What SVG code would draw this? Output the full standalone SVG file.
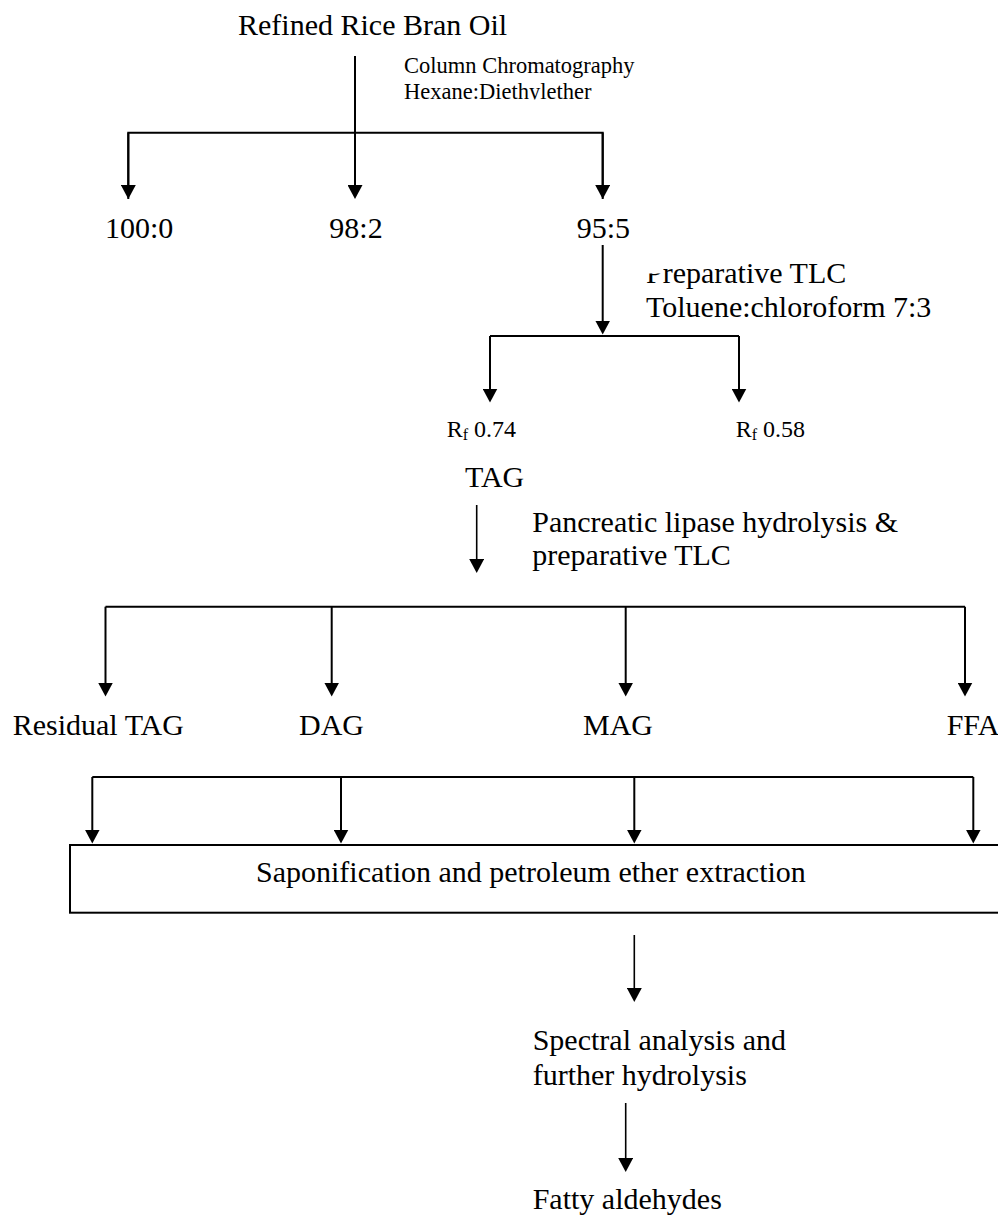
<svg xmlns="http://www.w3.org/2000/svg" width="998" height="1215" viewBox="0 0 998 1215">
<style>
text{font-family:"Liberation Serif","Times New Roman",serif;fill:#000;font-size:30px}
.sm{font-size:22.5px}
.rf{font-size:24px}
.ln{stroke:#000;stroke-width:2;fill:none}
.lt{stroke:#000;stroke-width:1.6;fill:none}
.ar{marker-end:url(#ah)}
</style>
<defs>
<marker id="ah" markerUnits="userSpaceOnUse" markerWidth="14" markerHeight="15" refX="10" refY="7.5" orient="auto" viewBox="0 0 14 15">
<path d="M0,0 L14,7.5 L0,15 z" fill="#000"/>
</marker>
<clipPath id="clipHex"><rect x="0" y="0" width="998" height="99.5"/></clipPath>
<clipPath id="clipPrep"><path clip-rule="evenodd" d="M0,0 H998 V1215 H0 Z M644,255 H662.5 V273.5 H644 Z"/></clipPath>
</defs>
<rect width="998" height="1215" fill="#fff"/>
<g id="connectors">
<line class="ln ar" x1="355" y1="56" x2="355" y2="195"/>
<polyline class="ln" points="128.3,199 128.3,132.7 602.7,132.7 602.7,199"/>
<line class="ln ar" x1="128.3" y1="132.7" x2="128.3" y2="195"/>
<line class="ln ar" x1="602.7" y1="132.7" x2="602.7" y2="195"/>
<line class="ln ar" x1="602.7" y1="245" x2="602.7" y2="330.5"/>
<polyline class="ln" points="490,336 739,336"/>
<line class="ln ar" x1="490" y1="336" x2="490" y2="398.5"/>
<line class="ln ar" x1="739" y1="336" x2="739" y2="398.5"/>
<line class="lt ar" x1="476.7" y1="505" x2="476.7" y2="569"/>
<polyline class="ln" points="105.5,606.7 965,606.7"/>
<line class="ln ar" x1="105.5" y1="606.7" x2="105.5" y2="692.5"/>
<line class="ln ar" x1="331.7" y1="606.7" x2="331.7" y2="692.5"/>
<line class="ln ar" x1="625.7" y1="606.7" x2="625.7" y2="692.5"/>
<line class="ln ar" x1="965" y1="606.7" x2="965" y2="692.5"/>
<polyline class="ln" points="92.3,777 973.3,777"/>
<line class="ln ar" x1="92.3" y1="777" x2="92.3" y2="839.5"/>
<line class="ln ar" x1="341" y1="777" x2="341" y2="839.5"/>
<line class="ln ar" x1="634.3" y1="777" x2="634.3" y2="839.5"/>
<line class="ln ar" x1="973.3" y1="777" x2="973.3" y2="839.5"/>
<line class="lt ar" x1="634.3" y1="935" x2="634.3" y2="998"/>
<line class="lt ar" x1="625.7" y1="1103" x2="625.7" y2="1168"/>
</g>
<g id="n-rbo"><text x="238" y="35">Refined Rice Bran Oil</text></g>
<g id="l-column">
<text class="sm" x="404" y="73.3">Column Chromatography</text>
<text class="sm" x="404" y="98.8" clip-path="url(#clipHex)">Hexane:Diethylether</text>
</g>
<g id="n-100"><text x="105" y="238">100:0</text></g>
<g id="n-98"><text x="329.3" y="238">98:2</text></g>
<g id="n-95"><text x="576.7" y="238">95:5</text></g>
<g id="l-ptlc">
<text x="646" y="283.3" clip-path="url(#clipPrep)">Preparative TLC</text>
<text x="646" y="316.7">Toluene:chloroform 7:3</text>
</g>
<g id="n-rf074"><text class="rf" x="446.7" y="436.7">R<tspan font-size="16" dy="3">f</tspan><tspan dy="-3"> 0.74</tspan></text></g>
<g id="n-rf058"><text class="rf" x="735.7" y="436.7">R<tspan font-size="16" dy="3">f</tspan><tspan dy="-3"> 0.58</tspan></text></g>
<g id="n-tag"><text x="465" y="486.7">TAG</text></g>
<g id="l-lipase">
<text x="532.3" y="531.7">Pancreatic lipase hydrolysis &amp;</text>
<text x="532.3" y="565">preparative TLC</text>
</g>
<g id="n-rtag"><text x="12.7" y="735">Residual TAG</text></g>
<g id="n-dag"><text x="299" y="735">DAG</text></g>
<g id="n-mag"><text x="583" y="735">MAG</text></g>
<g id="n-ffa"><text x="946.7" y="735">FFA</text></g>
<g id="n-sapon">
<rect class="ln" x="70" y="845" width="940" height="67.7"/>
<text x="256" y="882">Saponification and petroleum ether extraction</text>
</g>
<g id="n-spectral">
<text x="532.7" y="1050">Spectral analysis and</text>
<text x="532.7" y="1085">further hydrolysis</text>
</g>
<g id="n-fatty"><text x="532.7" y="1209">Fatty aldehydes</text></g>
</svg>
